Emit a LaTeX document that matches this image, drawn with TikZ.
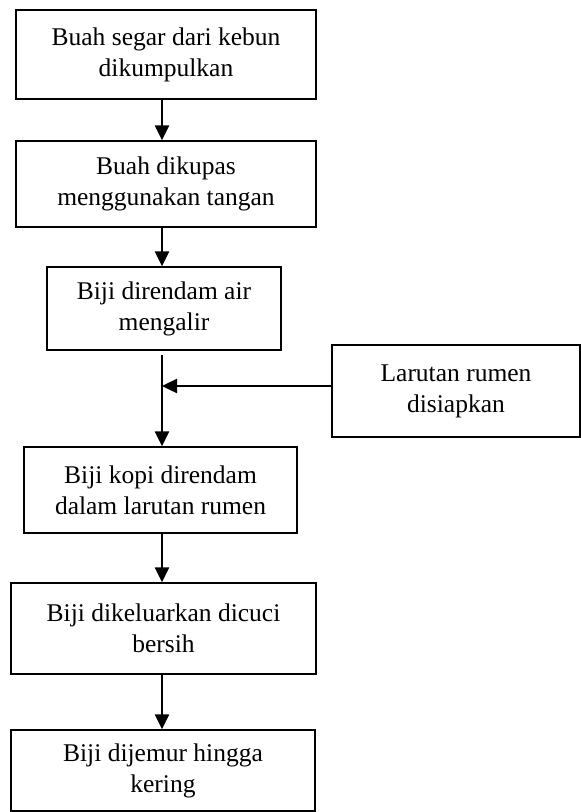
\documentclass[tikz,border=0pt]{standalone}
\usepackage{fontspec}
\setmainfont{Liberation Serif}
\usetikzlibrary{arrows.meta}
\tikzset{
  stepbox/.style={draw, line width=1.4pt, align=center, inner sep=0pt,
    font=\fontsize{25.5}{31}\selectfont},
  flow/.style={line width=2.4pt, -{Triangle[width=14pt,length=15pt]}}
}
\begin{document}
\begin{tikzpicture}[x=1pt,y=-1pt]
    \useasboundingbox (0,0) rectangle (581,812);
    \coordinate (spine) at (162,0);
    \node[stepbox, minimum width=300pt, minimum height=89pt] (kumpul) at (166,54.5) {Buah segar dari kebun\\dikumpulkan};
    \node[stepbox, minimum width=300pt, minimum height=86pt] (kupas) at (166,184) {Buah dikupas\\menggunakan tangan};
    \node[stepbox, minimum width=234pt, minimum height=83pt] (rendam) at (164,308.5) {Biji direndam air\\mengalir};
    \node[stepbox, minimum width=248pt, minimum height=92pt] (rumen) at (456,391) {Larutan rumen\\disiapkan};
    \node[stepbox, minimum width=273pt, minimum height=86pt] (kopi) at (160.5,490) {Biji kopi direndam\\dalam larutan rumen};
    \node[stepbox, minimum width=305pt, minimum height=91pt] (cuci) at (163.5,628.5) {Biji dikeluarkan dicuci\\bersih};
    \node[stepbox, minimum width=304pt, minimum height=81pt] (jemur) at (163,770.5) {Biji dijemur hingga\\kering};
    % arrows
    \draw[flow] (kumpul.south -| spine) -- (kupas.north -| spine);
    \draw[flow] (kupas.south -| spine) -- (rendam.north -| spine);
    \draw[flow] ([yshift=-4pt]rendam.south -| spine) -- (kopi.north -| spine);
    \draw[flow] ([yshift=5pt]rumen.west) -- ([yshift=5pt]rumen.west -| spine);
    \draw[flow] (kopi.south -| spine) -- (cuci.north -| spine);
    \draw[flow] (cuci.south -| spine) -- (jemur.north -| spine);
\end{tikzpicture}
\end{document}
